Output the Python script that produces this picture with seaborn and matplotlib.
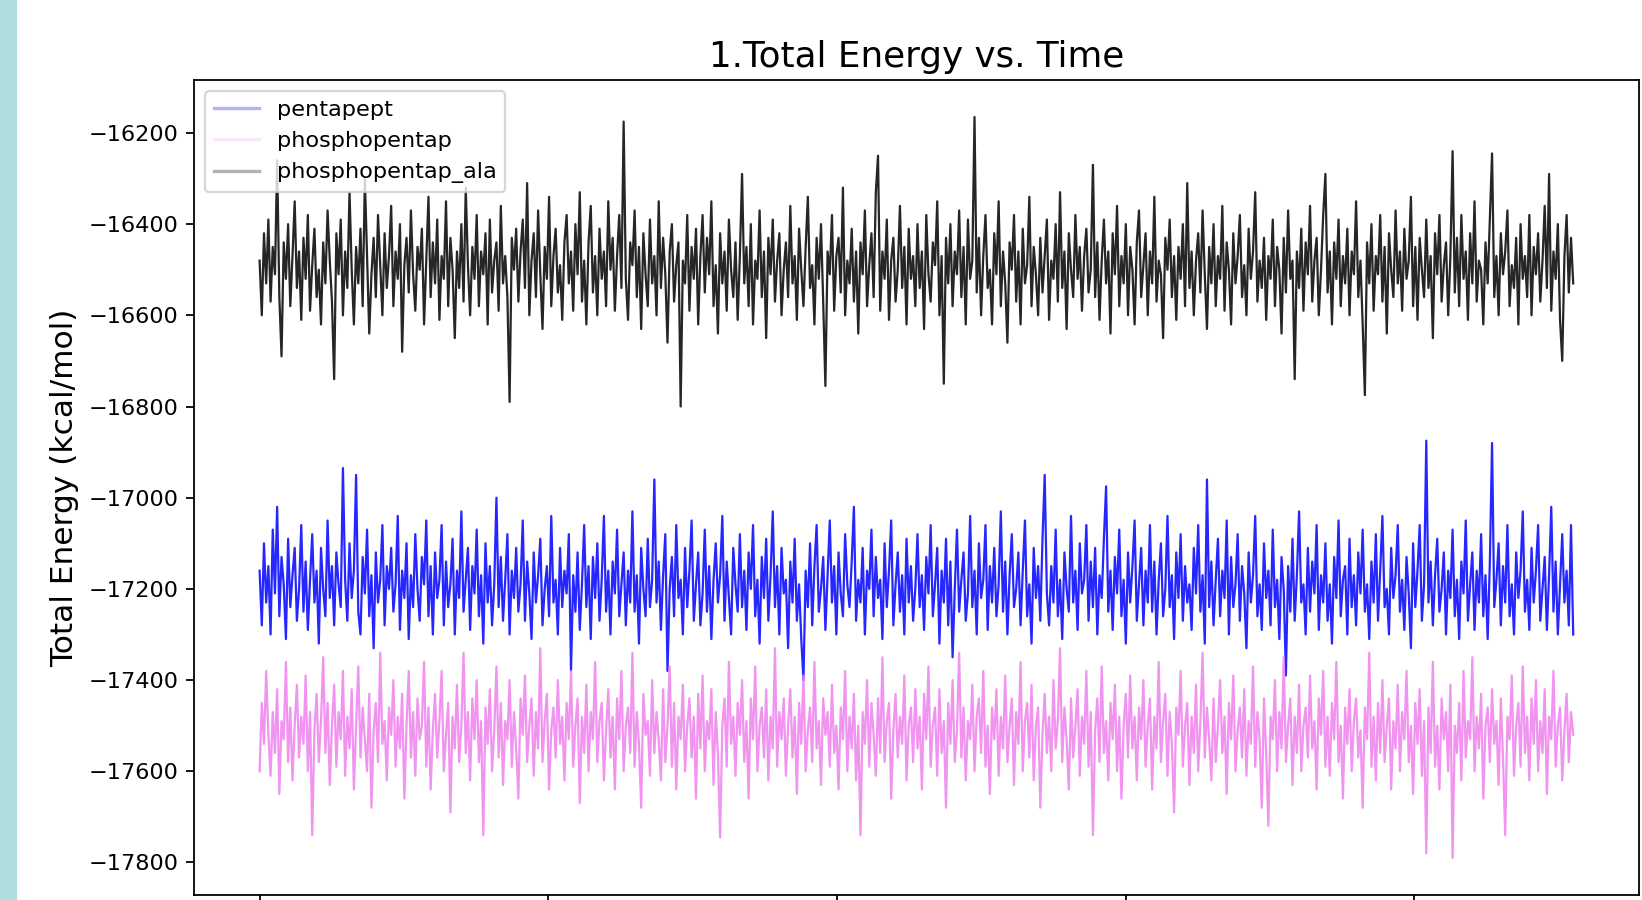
import numpy as np
import pandas as pd
import matplotlib
matplotlib.use('Agg')
import matplotlib.pyplot as plt
from matplotlib.lines import Line2D
from matplotlib.patches import Rectangle
import seaborn as sns

# total energy (kcal/mol), 600 samples per run
pentapept = [
    -17160, -17280, -17100, -17230, -17150, -17300, -17070, -17210, -17020, -17260, -17130, -17190, -17310, -17090, -17240, -17170, -17110, -17270, -17200, -17060,
    -17250, -17140, -17290, -17180, -17080, -17230, -17160, -17320, -17110, -17200, -17260, -17050, -17220, -17150, -17280, -17120, -17190, -17240, -16935, -17180,
    -17270, -17100, -17220, -17160, -16950, -17250, -17300, -17130, -17210, -17070, -17260, -17170, -17330, -17120, -17230, -17180, -17060, -17280, -17150, -17200,
    -17110, -17250, -17190, -17040, -17290, -17160, -17220, -17100, -17310, -17170, -17240, -17080, -17200, -17270, -17130, -17190, -17050, -17260, -17150, -17300,
    -17120, -17220, -17180, -17060, -17280, -17140, -17240, -17190, -17090, -17300, -17160, -17220, -17030, -17250, -17180, -17110, -17290, -17150, -17210, -17070,
    -17260, -17170, -17320, -17100, -17230, -17150, -17280, -17190, -17000, -17240, -17130, -17270, -17180, -17080, -17300, -17160, -17220, -17110, -17250, -17190,
    -17050, -17270, -17140, -17210, -17310, -17120, -17230, -17170, -17090, -17280, -17200, -17150, -17260, -17040, -17230, -17180, -17300, -17110, -17240, -17160,
    -17210, -17080, -17380, -17170, -17250, -17120, -17290, -17190, -17060, -17240, -17150, -17310, -17130, -17220, -17100, -17270, -17180, -17040, -17250, -17160,
    -17300, -17140, -17210, -17070, -17260, -17190, -17120, -17280, -17160, -17230, -17030, -17250, -17170, -17320, -17110, -17200, -17260, -17090, -17240, -17180,
    -16960, -17230, -17140, -17290, -17170, -17080, -17380, -17200, -17130, -17260, -17060, -17220, -17180, -17300, -17110, -17240, -17160, -17050, -17270, -17190,
    -17120, -17280, -17210, -17070, -17250, -17150, -17310, -17180, -17100, -17230, -17170, -17040, -17270, -17140, -17220, -17300, -17110, -17190, -17250, -17080,
    -17240, -17160, -17290, -17120, -17200, -17060, -17260, -17180, -17320, -17130, -17220, -17090, -17270, -17170, -17030, -17240, -17150, -17300, -17110, -17210,
    -17180, -17330, -17140, -17230, -17090, -17270, -17190, -17310, -17400, -17160, -17240, -17100, -17280, -17150, -17060, -17250, -17200, -17130, -17290, -17170,
    -17050, -17230, -17150, -17300, -17120, -17210, -17260, -17080, -17190, -17240, -17140, -17020, -17270, -17180, -17230, -17110, -17300, -17160, -17200, -17070,
    -17260, -17130, -17220, -17180, -17310, -17100, -17240, -17160, -17050, -17280, -17190, -17120, -17250, -17170, -17300, -17090, -17230, -17150, -17270, -17200,
    -17080, -17240, -17170, -17290, -17130, -17210, -17060, -17260, -17190, -17110, -17320, -17160, -17230, -17090, -17280, -17140, -17350, -17200, -17070, -17250,
    -17180, -17120, -17270, -17210, -17040, -17240, -17160, -17300, -17100, -17220, -17180, -17060, -17290, -17150, -17230, -17110, -17260, -17190, -17030, -17250,
    -17140, -17300, -17170, -17080, -17240, -17200, -17120, -17280, -17160, -17050, -17260, -17190, -17320, -17110, -17220, -17150, -17270, -17090, -16950, -17210,
    -17280, -17150, -17230, -17070, -17260, -17180, -17310, -17120, -17200, -17250, -17040, -17230, -17160, -17290, -17100, -17210, -17180, -17060, -17270, -17140,
    -17240, -17110, -17300, -17170, -17220, -17090, -16975, -17250, -17160, -17290, -17130, -17210, -17070, -17260, -17180, -17320, -17120, -17230, -17150, -17050,
    -17270, -17190, -17110, -17280, -17160, -17230, -17060, -17250, -17140, -17300, -17180, -17100, -17260, -17200, -17040, -17240, -17170, -17310, -17120, -17220,
    -17080, -17270, -17150, -17230, -17190, -17290, -17110, -17210, -17060, -17250, -17170, -17320, -16960, -17240, -17140, -17280, -17180, -17090, -17260, -17160,
    -17220, -17050, -17300, -17130, -17240, -17190, -17080, -17270, -17150, -17210, -17330, -17120, -17230, -17170, -17040, -17260, -17190, -17290, -17100, -17220,
    -17160, -17280, -17070, -17240, -17180, -17310, -17130, -17200, -17390, -17150, -17250, -17090, -17270, -17170, -17030, -17230, -17190, -17300, -17110, -17250,
    -17140, -17210, -17060, -17290, -17170, -17230, -17100, -17270, -17190, -17320, -17130, -17220, -17050, -17260, -17180, -17150, -17300, -17090, -17240, -17170,
    -17280, -17120, -17210, -17070, -17250, -17190, -17310, -17140, -17230, -17080, -17270, -17160, -17040, -17240, -17200, -17300, -17110, -17220, -17170, -17060,
    -17250, -17180, -17290, -17130, -17210, -17330, -17100, -17240, -17160, -17060, -17270, -17190, -16875, -17230, -17140, -17280, -17170, -17090, -17250, -17200,
    -17120, -17300, -17160, -17220, -17070, -17260, -17180, -17310, -17140, -17210, -17050, -17270, -17190, -17120, -17290, -17160, -17230, -17080, -17260, -17170,
    -17310, -17140, -16880, -17240, -17180, -17100, -17280, -17150, -17230, -17060, -17260, -17190, -17300, -17120, -17220, -17160, -17030, -17250, -17180, -17290,
    -17110, -17230, -17160, -17060, -17270, -17200, -17130, -17290, -17170, -17020, -17250, -17140, -17300, -17190, -17080, -17230, -17160, -17280, -17060, -17300,
]

phosphopentap = [
    -17600, -17450, -17540, -17380, -17520, -17610, -17470, -17560, -17420, -17650, -17490, -17530, -17360, -17580, -17460, -17620, -17500, -17410, -17570, -17480,
    -17540, -17390, -17600, -17470, -17740, -17510, -17430, -17580, -17490, -17350, -17560, -17450, -17630, -17500, -17410, -17590, -17470, -17530, -17380, -17610,
    -17480, -17550, -17420, -17640, -17500, -17370, -17570, -17460, -17530, -17600, -17430, -17680, -17510, -17450, -17580, -17340, -17540, -17490, -17620, -17460,
    -17520, -17400, -17590, -17480, -17550, -17430, -17660, -17500, -17380, -17570, -17470, -17610, -17440, -17530, -17500, -17360, -17590, -17460, -17640, -17510,
    -17430, -17570, -17490, -17380, -17600, -17520, -17450, -17690, -17480, -17550, -17410, -17580, -17500, -17340, -17560, -17470, -17620, -17440, -17530, -17400,
    -17580, -17490, -17740, -17460, -17540, -17420, -17600, -17510, -17370, -17570, -17450, -17630, -17490, -17530, -17400, -17590, -17470, -17550, -17660, -17440,
    -17520, -17390, -17580, -17500, -17440, -17610, -17470, -17550, -17330, -17580, -17490, -17430, -17640, -17510, -17460, -17570, -17400, -17540, -17480, -17620,
    -17450, -17530, -17380, -17590, -17500, -17440, -17670, -17480, -17560, -17410, -17600, -17470, -17530, -17360, -17580, -17490, -17450, -17620, -17510, -17420,
    -17570, -17480, -17640, -17440, -17530, -17380, -17600, -17500, -17460, -17560, -17340, -17590, -17470, -17540, -17680, -17430, -17520, -17490, -17610, -17400,
    -17560, -17470, -17530, -17620, -17420, -17580, -17500, -17370, -17590, -17450, -17640, -17480, -17530, -17410, -17600, -17500, -17440, -17570, -17480, -17660,
    -17430, -17550, -17390, -17600, -17490, -17530, -17420, -17630, -17470, -17560, -17745, -17500, -17440, -17590, -17360, -17540, -17480, -17610, -17450, -17520,
    -17400, -17580, -17490, -17660, -17440, -17530, -17370, -17600, -17500, -17460, -17570, -17420, -17620, -17480, -17550, -17330, -17590, -17470, -17530, -17440,
    -17610, -17500, -17420, -17570, -17480, -17650, -17450, -17540, -17390, -17600, -17510, -17460, -17580, -17360, -17550, -17490, -17630, -17440, -17520, -17470,
    -17590, -17410, -17560, -17500, -17640, -17460, -17530, -17380, -17600, -17480, -17550, -17430, -17620, -17500, -17740, -17470, -17540, -17400, -17590, -17450,
    -17520, -17610, -17440, -17560, -17350, -17580, -17490, -17450, -17660, -17510, -17430, -17570, -17480, -17540, -17390, -17620, -17500, -17460, -17580, -17420,
    -17550, -17480, -17640, -17430, -17530, -17370, -17590, -17500, -17460, -17610, -17420, -17560, -17490, -17680, -17450, -17540, -17400, -17580, -17510, -17340,
    -17570, -17460, -17620, -17490, -17530, -17410, -17600, -17480, -17440, -17560, -17380, -17590, -17500, -17650, -17460, -17530, -17420, -17610, -17480, -17550,
    -17390, -17580, -17500, -17440, -17630, -17470, -17540, -17360, -17600, -17490, -17450, -17570, -17410, -17620, -17500, -17460, -17680, -17520, -17430, -17560,
    -17480, -17600, -17400, -17550, -17490, -17330, -17580, -17460, -17530, -17640, -17440, -17570, -17500, -17420, -17610, -17480, -17540, -17380, -17590, -17470,
    -17740, -17510, -17440, -17580, -17370, -17560, -17490, -17620, -17450, -17530, -17410, -17600, -17480, -17660, -17500, -17430, -17570, -17390, -17550, -17480,
    -17620, -17460, -17530, -17400, -17590, -17500, -17440, -17640, -17480, -17550, -17360, -17580, -17490, -17430, -17610, -17470, -17540, -17690, -17460, -17520,
    -17380, -17590, -17500, -17450, -17630, -17480, -17560, -17410, -17600, -17490, -17340, -17570, -17460, -17530, -17620, -17440, -17580, -17500, -17400, -17560,
    -17480, -17650, -17450, -17530, -17390, -17600, -17510, -17460, -17570, -17420, -17610, -17490, -17540, -17370, -17590, -17470, -17530, -17680, -17440, -17560,
    -17720, -17480, -17530, -17400, -17600, -17470, -17550, -17350, -17580, -17500, -17440, -17630, -17480, -17560, -17410, -17600, -17500, -17460, -17570, -17390,
    -17550, -17490, -17640, -17440, -17520, -17380, -17590, -17480, -17610, -17450, -17530, -17360, -17580, -17500, -17660, -17460, -17540, -17420, -17600, -17490,
    -17440, -17570, -17510, -17680, -17460, -17530, -17340, -17590, -17480, -17620, -17450, -17560, -17400, -17580, -17500, -17440, -17640, -17490, -17550, -17410,
    -17600, -17470, -17530, -17380, -17580, -17500, -17650, -17450, -17540, -17420, -17610, -17490, -17780, -17460, -17560, -17360, -17590, -17500, -17640, -17440,
    -17530, -17470, -17600, -17410, -17790, -17500, -17560, -17450, -17620, -17380, -17570, -17490, -17530, -17350, -17600, -17480, -17550, -17430, -17660, -17500,
    -17460, -17580, -17420, -17540, -17490, -17630, -17440, -17570, -17740, -17480, -17530, -17390, -17610, -17500, -17450, -17590, -17370, -17560, -17480, -17620,
    -17440, -17540, -17400, -17600, -17490, -17560, -17420, -17650, -17480, -17530, -17380, -17590, -17500, -17460, -17620, -17510, -17430, -17580, -17470, -17520,
]

phosphopentap_ala = [
    -16480, -16600, -16420, -16530, -16390, -16570, -16450, -16510, -16260, -16560, -16690, -16440, -16520, -16400, -16580, -16470, -16350, -16540, -16460, -16610,
    -16430, -16520, -16380, -16590, -16490, -16410, -16560, -16500, -16620, -16440, -16530, -16370, -16480, -16570, -16740, -16420, -16510, -16390, -16600, -16460,
    -16540, -16330, -16500, -16620, -16450, -16530, -16410, -16580, -16300, -16470, -16640, -16510, -16430, -16560, -16380, -16490, -16600, -16420, -16540, -16470,
    -16360, -16580, -16460, -16520, -16400, -16680, -16490, -16430, -16550, -16370, -16510, -16590, -16450, -16500, -16410, -16620, -16480, -16340, -16560, -16440,
    -16530, -16390, -16610, -16470, -16520, -16350, -16580, -16430, -16500, -16650, -16460, -16540, -16400, -16570, -16320, -16490, -16600, -16450, -16520, -16380,
    -16580, -16460, -16510, -16420, -16620, -16390, -16550, -16480, -16440, -16590, -16360, -16530, -16470, -16560, -16790, -16430, -16500, -16410, -16570, -16460,
    -16390, -16540, -16310, -16600, -16480, -16420, -16560, -16370, -16510, -16630, -16450, -16520, -16340, -16580, -16470, -16410, -16550, -16490, -16610, -16440,
    -16380, -16530, -16460, -16590, -16400, -16510, -16330, -16570, -16480, -16620, -16440, -16360, -16550, -16470, -16600, -16410, -16520, -16460, -16580, -16350,
    -16500, -16430, -16590, -16470, -16380, -16540, -16175, -16520, -16610, -16440, -16490, -16370, -16560, -16450, -16630, -16420, -16510, -16580, -16390, -16530,
    -16470, -16600, -16350, -16540, -16430, -16510, -16660, -16460, -16400, -16570, -16490, -16440, -16800, -16480, -16530, -16380, -16590, -16450, -16520, -16410,
    -16620, -16470, -16380, -16550, -16430, -16510, -16350, -16580, -16490, -16640, -16420, -16530, -16460, -16590, -16390, -16500, -16560, -16440, -16610, -16470,
    -16290, -16530, -16450, -16580, -16400, -16620, -16480, -16520, -16370, -16560, -16460, -16650, -16430, -16510, -16390, -16570, -16480, -16420, -16600, -16500,
    -16440, -16560, -16360, -16530, -16470, -16610, -16410, -16500, -16580, -16450, -16340, -16540, -16490, -16620, -16430, -16520, -16400, -16570, -16755, -16460,
    -16510, -16380, -16590, -16470, -16430, -16550, -16320, -16600, -16480, -16530, -16410, -16570, -16460, -16640, -16440, -16510, -16370, -16580, -16490, -16420,
    -16560, -16330, -16250, -16590, -16460, -16520, -16390, -16610, -16480, -16430, -16570, -16500, -16360, -16540, -16450, -16620, -16410, -16520, -16470, -16580,
    -16400, -16540, -16460, -16630, -16380, -16510, -16570, -16440, -16490, -16350, -16600, -16470, -16750, -16430, -16530, -16400, -16580, -16460, -16510, -16370,
    -16560, -16450, -16620, -16390, -16520, -16480, -16165, -16550, -16430, -16600, -16470, -16380, -16540, -16500, -16620, -16420, -16510, -16350, -16580, -16460,
    -16530, -16660, -16440, -16500, -16380, -16570, -16460, -16620, -16410, -16530, -16490, -16340, -16580, -16450, -16510, -16600, -16430, -16550, -16470, -16390,
    -16610, -16480, -16520, -16400, -16570, -16330, -16540, -16460, -16630, -16420, -16500, -16560, -16380, -16520, -16450, -16590, -16470, -16410, -16550, -16500,
    -16270, -16560, -16440, -16610, -16480, -16390, -16530, -16460, -16640, -16420, -16510, -16360, -16580, -16470, -16530, -16400, -16600, -16450, -16500, -16620,
    -16440, -16370, -16560, -16490, -16420, -16600, -16460, -16530, -16340, -16570, -16480, -16510, -16650, -16430, -16500, -16390, -16560, -16470, -16610, -16450,
    -16520, -16400, -16580, -16310, -16540, -16460, -16600, -16480, -16420, -16550, -16370, -16510, -16630, -16450, -16530, -16400, -16580, -16470, -16520, -16360,
    -16590, -16440, -16500, -16620, -16420, -16530, -16470, -16380, -16560, -16490, -16600, -16410, -16520, -16460, -16330, -16570, -16480, -16540, -16430, -16610,
    -16470, -16520, -16390, -16580, -16450, -16500, -16640, -16430, -16550, -16370, -16520, -16480, -16740, -16460, -16540, -16410, -16590, -16440, -16510, -16360,
    -16570, -16480, -16430, -16600, -16500, -16380, -16290, -16550, -16460, -16620, -16440, -16520, -16390, -16580, -16470, -16530, -16410, -16600, -16460, -16510,
    -16350, -16560, -16480, -16620, -16775, -16440, -16530, -16400, -16590, -16470, -16510, -16380, -16570, -16450, -16640, -16420, -16500, -16560, -16370, -16530,
    -16460, -16590, -16410, -16520, -16480, -16340, -16580, -16450, -16610, -16430, -16500, -16560, -16390, -16540, -16470, -16650, -16420, -16510, -16380, -16570,
    -16490, -16440, -16600, -16470, -16240, -16550, -16430, -16580, -16380, -16520, -16460, -16610, -16420, -16530, -16350, -16570, -16480, -16500, -16620, -16440,
    -16530, -16390, -16245, -16560, -16470, -16600, -16420, -16510, -16460, -16370, -16580, -16490, -16540, -16430, -16620, -16400, -16520, -16470, -16560, -16380,
    -16600, -16450, -16510, -16420, -16570, -16480, -16360, -16540, -16290, -16590, -16460, -16520, -16400, -16610, -16700, -16470, -16380, -16550, -16430, -16530,
]

series_names = ['pentapept', 'phosphopentap', 'phosphopentap_ala']
series_colors = ['blue', 'violet', 'black']
legend_alpha = [0.3, 0.2, 0.3]
x_ticks = [0, 2000, 4000, 6000, 8000]
t_end = 9100  # last frame, x ticks every 2000

energies = [pentapept, phosphopentap, phosphopentap_ala]

fig = plt.figure(figsize=(1642 / 161, 900 / 161), dpi=161)
ax = fig.add_axes([0.1181, 0.0056, 0.880, 0.9056])

# light teal strip at the left edge of the screenshot
fig.patches.append(Rectangle((0, 0), 16 / 1642, 1, transform=fig.transFigure,
                             color='#b0dde0', zorder=0))

# thicker strokes stand in for the thousands of overlapping frames
for name, col, vals in zip(series_names, series_colors, energies):
    df = pd.DataFrame({'time': np.linspace(0, t_end, len(vals)), 'energy': vals})
    sns.lineplot(data=df, x='time', y='energy', ax=ax, color=col,
                 alpha=0.85, linewidth=1.0, legend=False)

handles = [Line2D([], [], color=c, alpha=a, linewidth=1.5)
           for c, a in zip(series_colors, legend_alpha)]
ax.legend(handles, series_names, loc='upper left')

# the screenshot is cropped just under the x axis: only the tick marks show
ax.set_xticks(x_ticks)
ax.tick_params(axis='x', labelbottom=False)
ax.set_xlabel('')
ax.set_ylabel('Total Energy (kcal/mol)', fontsize=14)
ax.set_title('1.Total Energy vs. Time', fontsize=16)

fig.savefig('out.png', dpi=161)
